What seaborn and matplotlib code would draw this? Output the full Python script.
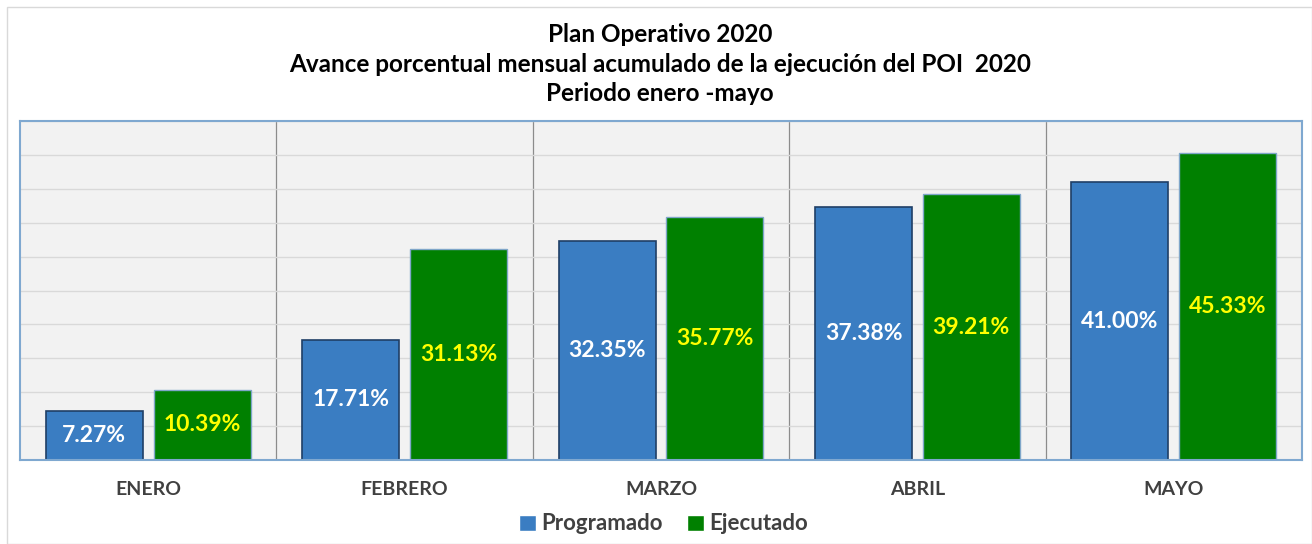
import numpy as np
import pandas as pd
import matplotlib.pyplot as plt
import seaborn as sns
from matplotlib.patches import Rectangle

# datos del grafico
meses = ['ENERO', 'FEBRERO', 'MARZO', 'ABRIL', 'MAYO']
programado = [7.27, 17.71, 32.35, 37.38, 41.00]
ejecutado = [10.39, 31.13, 35.77, 39.21, 45.33]
series = ['Programado', 'Ejecutado']

df = pd.DataFrame({'Mes': meses * 2,
                   'Serie': [series[0]] * 5 + [series[1]] * 5,
                   'Valor': programado + ejecutado})

sns.set_style('white')
plt.rcParams['font.family'] = ['Lato', 'DejaVu Sans']

azul = '#3A7DC2'
verde = '#008000'

fig = plt.figure(figsize=(13.12, 5.44), dpi=100)
ax = fig.add_axes([20/1312, 84/544, 1282/1312, 339/544])
ax.set_facecolor('#F2F2F2')

sns.barplot(data=df, x='Mes', y='Valor', hue='Serie', order=meses, hue_order=series,
            palette=[azul, verde], width=0.84, gap=0.1, saturation=1, ax=ax)

for bar in ax.containers[0]:
    bar.set_edgecolor('#1F3F66')
    bar.set_linewidth(1.2)
for bar in ax.containers[1]:
    bar.set_edgecolor('#7FA6C9')
    bar.set_linewidth(1.0)

ax.bar_label(ax.containers[0], labels=[f'{v:.2f}%' for v in programado], label_type='center',
             color='white', fontsize=16.5, fontweight='bold')
ax.bar_label(ax.containers[1], labels=[f'{v:.2f}%' for v in ejecutado], label_type='center',
             color='#FFFF00', fontsize=16.5, fontweight='bold')

ax.set_ylim(0, 50)
ax.set_xlim(-0.5, 4.5)
ax.set_yticks(np.arange(0, 51, 5))
ax.set_yticklabels([])
ax.tick_params(axis='y', length=0)
ax.tick_params(axis='x', length=0, pad=15)
ax.grid(axis='y', color='#D9D9D9', linewidth=1)
ax.set_axisbelow(True)
for x in np.arange(0.5, 4.5, 1):
    ax.axvline(x, color='#8C8C8C', linewidth=0.9, zorder=0.5)
for lbl in ax.get_xticklabels():
    lbl.set_fontweight('bold')
    lbl.set_fontsize(14)
    lbl.set_color('#404040')
ax.set_xlabel('')
ax.set_ylabel('')
for s in ax.spines.values():
    s.set_color('#7FA8D0')
    s.set_linewidth(1.5)

handles, labels = ax.get_legend_handles_labels()
ax.legend(handles, labels, loc='center', bbox_to_anchor=(0.502, -64/339), ncol=2,
          frameon=False, handlelength=0.75, handleheight=0.75, handletextpad=0.25,
          columnspacing=1.1, prop={'weight': 'bold', 'size': 16})
for t in ax.get_legend().get_texts():
    t.set_color('#404040')

fig.text(0.503, 1 - 23/544, 'Plan Operativo 2020\nAvance porcentual mensual acumulado de la ejecución del POI  2020\nPeriodo enero -mayo',
         ha='center', va='top', fontsize=17.5, fontweight='bold', linespacing=1.35, color='black')

fig.patches.append(Rectangle((7/1312, 0), 1 - 7/1312, 1 - 7/544, transform=fig.transFigure,
                             fill=False, edgecolor='#D9D9D9', linewidth=1))

fig.savefig('out.png', dpi=100)
